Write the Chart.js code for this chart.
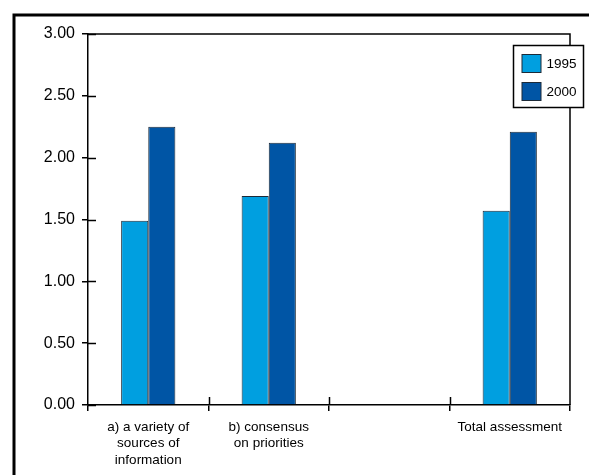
<!DOCTYPE html>
<html>
<head>
<meta charset="utf-8">
<script src="https://cdn.jsdelivr.net/npm/chart.js@4"></script>
<style>
  html, body { margin: 0; padding: 0; background: #fff; }
  #wrap { width: 589px; height: 475px; position: relative; }
</style>
</head>
<body>
<div id="wrap"><canvas id="c" width="589" height="475"></canvas></div>
<script>
// Category labels (multi-line where wrapped)
const categories = [
  ["a) a variety of", "sources of", "information"],
  ["b) consensus", "on priorities"],
  "",
  "Total assessment"
];
const seriesNames = ["1995", "2000"];
const values1995 = [1.49, 1.69, null, 1.57];
const values2000 = [2.25, 2.12, null, 2.21];
const yTickValues = [0, 0.5, 1, 1.5, 2, 2.5, 3];
const seriesColors = ["#009fe0", "#0055a5"];

const FONT = "'Liberation Sans', Arial, Helvetica, sans-serif";

// Frame, inward tick halves and the boxed legend
const decorations = {
  id: 'decorations',
  afterDraw(chart) {
    const ctx = chart.ctx;
    const area = chart.chartArea;
    const xs = chart.scales.x;
    const ys = chart.scales.y;
    ctx.save();

    // outer frame (runs off the right and bottom of the page)
    ctx.strokeStyle = '#000';
    ctx.lineWidth = 3;
    ctx.beginPath();
    ctx.moveTo(14, 480);
    ctx.lineTo(14, 15);
    ctx.lineTo(600, 15);
    ctx.stroke();

    // plot box: top and right edges
    ctx.lineWidth = 1.5;
    ctx.beginPath();
    ctx.moveTo(area.left, area.top);
    ctx.lineTo(area.right, area.top);
    ctx.lineTo(area.right, area.bottom);
    ctx.stroke();

    // inward halves of the y ticks
    ys.ticks.forEach((t, i) => {
      const py = Math.round(ys.getPixelForTick(i)) + 0.5;
      ctx.beginPath();
      ctx.moveTo(area.left, py);
      ctx.lineTo(area.left + 8, py);
      ctx.stroke();
    });

    // inward halves of the x ticks at category boundaries
    const n = xs.ticks.length;
    for (let i = 1; i < n; i++) {
      const px = Math.round((xs.getPixelForTick(i - 1) + xs.getPixelForTick(i)) / 2) + 0.5;
      ctx.beginPath();
      ctx.moveTo(px, area.bottom);
      ctx.lineTo(px, area.bottom - 8);
      ctx.stroke();
    }

    // legend
    const bx = area.right - 56.5, by = area.top + 11.5, bw = 70, bh = 62;
    ctx.fillStyle = '#fff';
    ctx.fillRect(bx, by, bw, bh);
    ctx.lineWidth = 1.5;
    ctx.strokeStyle = '#000';
    ctx.strokeRect(bx, by, bw, bh);
    chart.data.datasets.forEach((ds, i) => {
      const sy = by + 9 + i * 28;
      ctx.fillStyle = ds.backgroundColor;
      ctx.fillRect(bx + 8.5, sy, 19, 18);
      ctx.lineWidth = 1;
      ctx.strokeStyle = '#1c2a38';
      ctx.strokeRect(bx + 8.5, sy, 19, 18);
      ctx.fillStyle = '#000';
      ctx.font = '13.5px ' + FONT;
      ctx.textBaseline = 'middle';
      ctx.textAlign = 'left';
      ctx.fillText(ds.label, bx + 33, sy + 9.5);
    });
    ctx.restore();
  }
};

new Chart(document.getElementById('c'), {
  type: 'bar',
  data: {
    labels: categories,
    datasets: [
      { label: seriesNames[0], data: values1995, backgroundColor: seriesColors[0],
        borderColor: '#1c2a38', borderWidth: 1 },
      { label: seriesNames[1], data: values2000, backgroundColor: seriesColors[1],
        borderColor: '#1c2a38', borderWidth: 1 }
    ]
  },
  options: {
    responsive: false,
    animation: false,
    devicePixelRatio: 1,
    layout: { padding: { top: 34, right: 19, left: 0, bottom: 0 } },
    datasets: { bar: { categoryPercentage: 0.45, barPercentage: 1 } },
    plugins: {
      legend: { display: false },
      tooltip: { enabled: false }
    },
    scales: {
      x: {
        offset: true,
        grid: { display: true, offset: true, drawOnChartArea: false, drawTicks: true,
                tickLength: 6, color: '#000', lineWidth: 1.5 },
        border: { display: true, color: '#000', width: 1.5 },
        ticks: { color: '#000', padding: 7.5, maxRotation: 0, autoSkip: false,
                 font: { family: FONT, size: 13.5, lineHeight: 1.24 } },
        afterFit(s) { s.height = 70; }
      },
      y: {
        min: 0, max: 3,
        afterBuildTicks(s) { s.ticks = yTickValues.map(v => ({ value: v })); },
        grid: { display: true, drawOnChartArea: false, drawTicks: true,
                tickLength: 6, color: '#000', lineWidth: 1.5 },
        border: { display: true, color: '#000', width: 1.5 },
        ticks: { color: '#000', padding: 7,
                 font: { family: FONT, size: 16 },
                 callback: v => Number(v).toFixed(2) },
        afterFit(s) { s.width = 88; }
      }
    }
  },
  plugins: [decorations]
});
</script>
</body>
</html>
